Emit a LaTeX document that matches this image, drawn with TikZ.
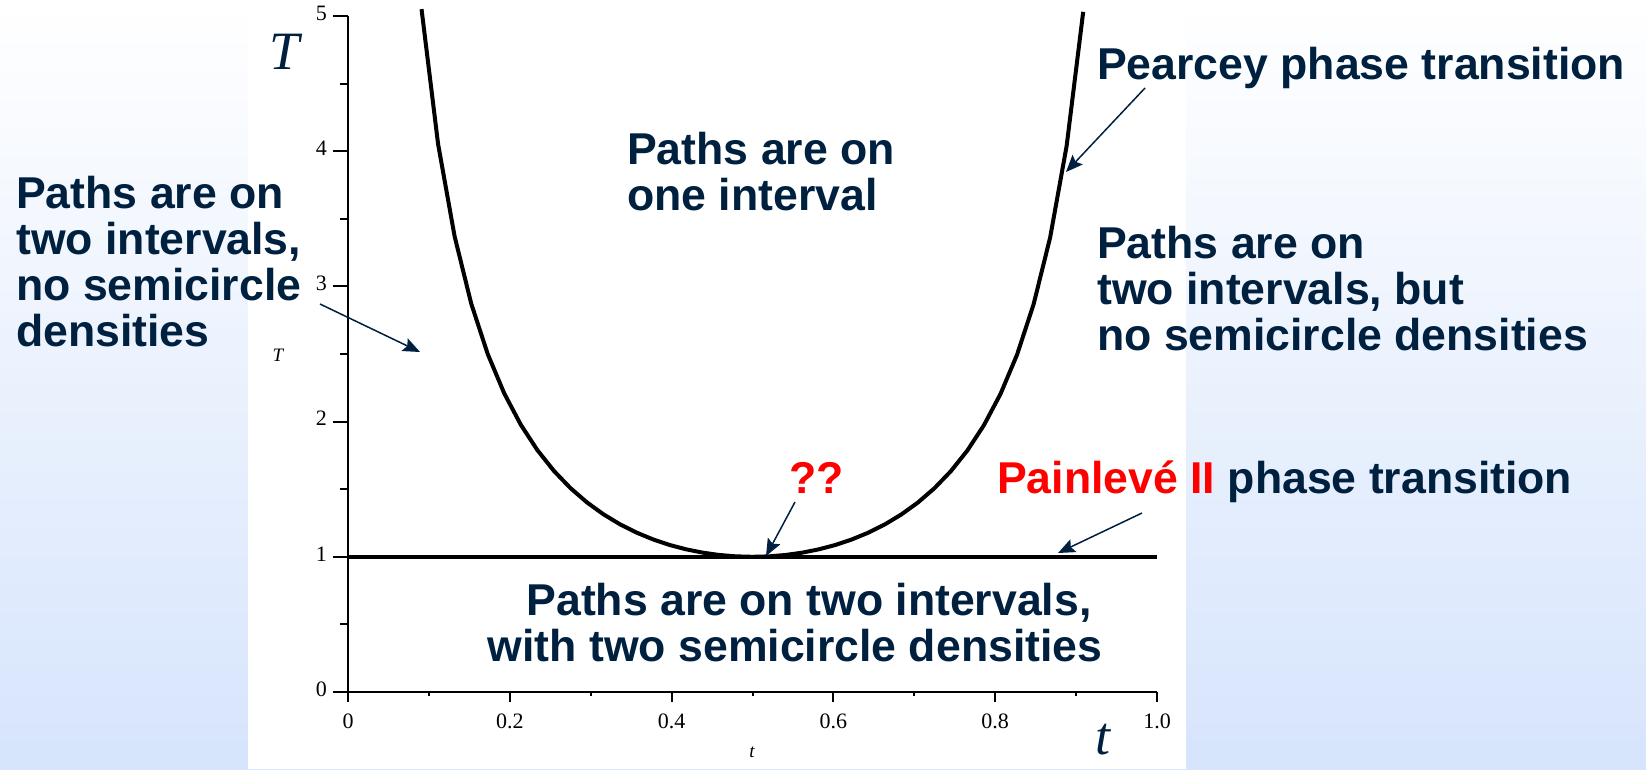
\documentclass[tikz,border=0pt]{standalone}
\usepackage{fontspec}
\setmainfont{Liberation Serif}
\newfontfamily\slidefont{Liberation Sans}
\usetikzlibrary{arrows.meta, positioning}
\definecolor{navy}{RGB}{0,32,64}
\definecolor{slidered}{RGB}{255,0,0}
\definecolor{bgblue}{RGB}{214,228,252}
\tikzset{
  slidetext/.style={anchor=base west, inner sep=0pt, align=left, text=navy, font=\slidefont\bfseries\fontsize{44.6}{46}\selectfont},
  ticklabel/.style={inner sep=0pt, font=\fontsize{22}{24}\selectfont},
  biglabel/.style={inner sep=0pt, text=navy, font=\itshape\fontsize{54}{58}\selectfont},
  smalllabel/.style={inner sep=0pt, font=\itshape\fontsize{19}{21}\selectfont},
  axisline/.style={line width=2pt},
  curveline/.style={line width=4pt, line join=round},
  arrowline/.style={-{Stealth[length=17pt, width=14pt, inset=3pt]}, line width=1.5pt, draw=navy},
}

\begin{document}
\begin{tikzpicture}[x=1pt, y=-1pt]
\useasboundingbox (0,0) rectangle (1646,769);
\shade[top color=white, bottom color=bgblue] (0,0) rectangle (1646,769);
\fill[white] (248,0) rectangle (1186,769);

% axes and ticks
\draw[axisline] (348,16) -- (348,692) -- (1157,692);
\foreach \Tval in {0,...,5} {
  \draw[axisline] (333,{692-135.2*\Tval}) -- (348,{692-135.2*\Tval});
  \node[ticklabel, anchor=east] at (327,{689-135.2*\Tval}) {\Tval};
}
\foreach \Tval in {0.5,1.5,2.5,3.5,4.5}
  \draw[axisline] (340,{692-135.2*\Tval}) -- (348,{692-135.2*\Tval});
\foreach \tval/\lab in {0/0, 0.2/0.2, 0.4/0.4, 0.6/0.6, 0.8/0.8, 1/1.0} {
  \draw[axisline] ({348+809*\tval},692) -- ({348+809*\tval},702);
  \node[ticklabel] at ({348+809*\tval},721) {\lab};
}
\foreach \tval in {0.1,0.3,0.5,0.7,0.9}
  \draw[axisline] ({348+809*\tval},692) -- ({348+809*\tval},696);

\node[biglabel] (bigT) at (285,52) {T};
\node[smalllabel] (smallT) at (278,355) {T};
\node[biglabel] (bigt) at (1103,740) {t};
\node[smalllabel] (smallt) at (752,752) {t};

% phase boundaries
\draw[curveline] plot[domain=0.0909:0.9091, samples=41] ({348+809*\x}, {692-135.2*(1/(2*\x*(1-\x))-1)});
\draw[curveline] (348,556.8) -- (1157,556.8);

% region texts
\node[slidetext] (twoNoSemi) at (16,346) {Paths are on\\two intervals,\\no semicircle\\densities};
\node[slidetext] (oneInt) at (627,210) {Paths are on\\one interval};
\node[slidetext] (pearcey) at (1097,79) {Pearcey phase transition};
\node[slidetext] (twoBut) at (1097,350) {Paths are on\\two intervals, but\\no semicircle densities};
\node[slidetext] (painleve) at (997,493) {\textcolor{slidered}{Painlev\'e II} phase transition};
\node[slidetext, text=slidered] (unknown) at (789,493) {??};
\node[slidetext, anchor=base, align=center] (twoWith) at (795,661) {\hspace*{28pt}Paths are on two intervals,\\with two semicircle densities};

% pointers
\coordinate (leftTail) at (320,304);
\coordinate (leftTip) at (420,352);
\coordinate (pearceyTail) at (1145,88);
\coordinate (pearceyTip) at (1066,172);
\coordinate (unknownTail) at (795,502);
\coordinate (unknownTip) at (766,556);
\coordinate (painleveTail) at (1142,513);
\coordinate (painleveTip) at (1058,553);
\draw[arrowline] (leftTail) -- (leftTip);
\draw[arrowline] (pearceyTail) -- (pearceyTip);
\draw[arrowline] (unknownTail) -- (unknownTip);
\draw[arrowline] (painleveTail) -- (painleveTip);
\end{tikzpicture}
\end{document}
